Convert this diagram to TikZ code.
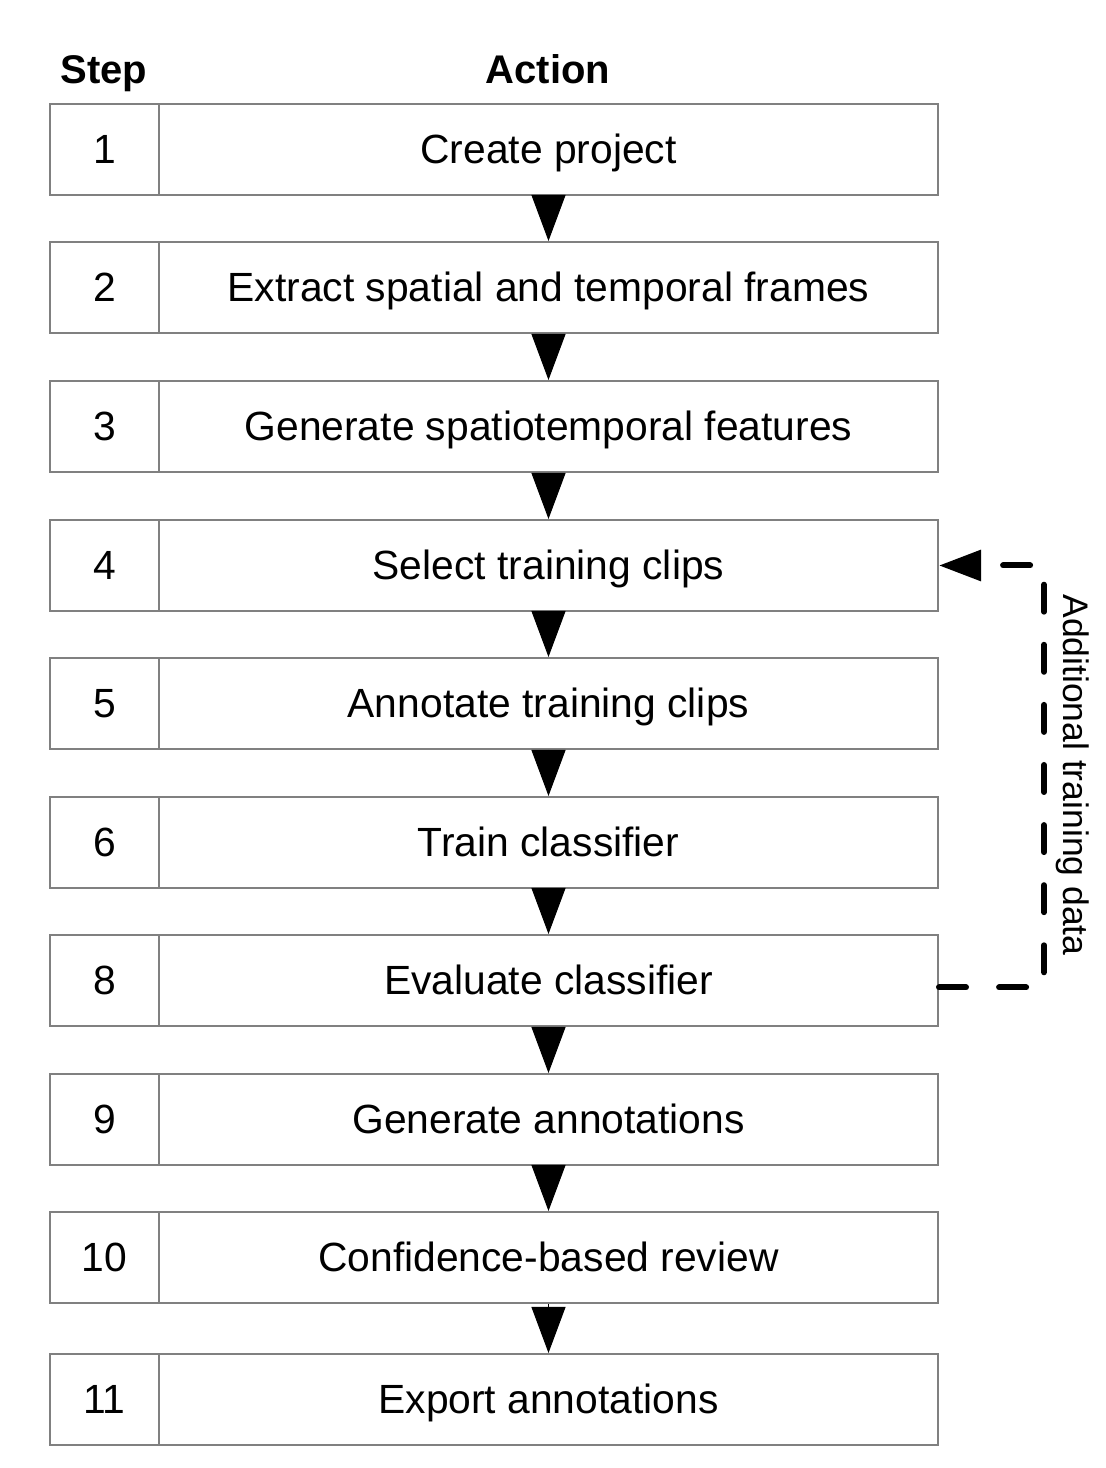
\documentclass[tikz,border=0pt]{standalone}
\usepackage{fontspec}
\setmainfont{Liberation Sans}
\usetikzlibrary{arrows.meta}

\begin{document}
\begin{tikzpicture}[x=1pt, y=1pt,
    cell/.style={
        draw=black!50,
        line width=2pt,
        minimum height=91pt,
        inner sep=0pt,
        text height=28pt,
        text depth=0pt,
        font=\fontsize{40.8}{48}\selectfont},
    stepcell/.style={cell, minimum width=109pt},
    actcell/.style={cell, minimum width=779pt},
    head/.style={anchor=base, font=\fontsize{40}{48}\selectfont\bfseries},
    flow/.style={-{Triangle[length=46pt,width=34pt]}, line width=1pt},
    feedback/.style={-{Triangle[length=42pt,width=30pt]}, line width=6pt,
        line cap=round, dash pattern=on 27pt off 33.1pt}]

    \useasboundingbox (0,0) rectangle (1106,1468);

    \node[head] (HS) at (104,1384) {Step};
    \node[head] (HA) at (548,1384) {Action};

    \node[stepcell] (S1)  at (104.5,1318.5) {1};
    \node[stepcell] (S2)  at (104.5,1180.5) {2};
    \node[stepcell] (S3)  at (104.5,1041.5) {3};
    \node[stepcell] (S4)  at (104.5,902.5)  {4};
    \node[stepcell] (S5)  at (104.5,764.5)  {5};
    \node[stepcell] (S6)  at (104.5,625.5)  {6};
    \node[stepcell] (S8)  at (104.5,487.5)  {8};
    \node[stepcell] (S9)  at (104.5,348.5)  {9};
    \node[stepcell] (S10) at (104.5,210.5)  {10};
    \node[stepcell] (S11) at (104.5,68.5)   {11};

    \node[actcell] (A1)  at (548.5,1318.5) {Create project};
    \node[actcell] (A2)  at (548.5,1180.5) {Extract spatial and temporal frames};
    \node[actcell] (A3)  at (548.5,1041.5) {Generate spatiotemporal features};
    \node[actcell] (A4)  at (548.5,902.5)  {Select training clips};
    \node[actcell] (A5)  at (548.5,764.5)  {Annotate training clips};
    \node[actcell] (A6)  at (548.5,625.5)  {Train classifier};
    \node[actcell] (A8)  at (548.5,487.5)  {Evaluate classifier};
    \node[actcell] (A9)  at (548.5,348.5)  {Generate annotations};
    \node[actcell] (A10) at (548.5,210.5)  {Confidence-based review};
    \node[actcell] (A11) at (548.5,68.5)   {Export annotations};

    \draw[flow] (A1) -- (A2);
    \draw[flow] (A2) -- (A3);
    \draw[flow] (A3) -- (A4);
    \draw[flow] (A4) -- (A5);
    \draw[flow] (A5) -- (A6);
    \draw[flow] (A6) -- (A8);
    \draw[flow] (A8) -- (A9);
    \draw[flow] (A9) -- (A10);
    \draw[flow] (A10) -- (A11);

    % loop back for more training data
    \draw[feedback] ([yshift=-7pt]A8.east) -- ++(105,0) |- (A4.east);
    \node[rotate=-90, anchor=base, font=\fontsize{35.5}{42}\selectfont] (L)
        at (1063,693) {Additional training data};
\end{tikzpicture}
\end{document}
